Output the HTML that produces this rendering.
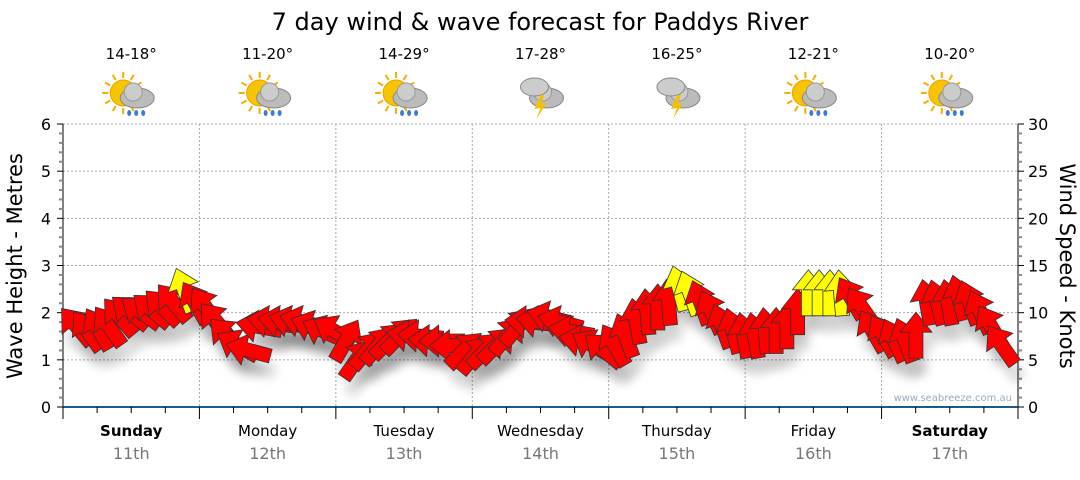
<!DOCTYPE html>
<html><head><meta charset="utf-8"><style>
body{margin:0;background:#fff;width:1080px;height:475px;overflow:hidden;font-family:"Liberation Sans","DejaVu Sans",sans-serif}
</style></head><body>
<svg id="c" width="1080" height="475" xmlns="http://www.w3.org/2000/svg" font-family="DejaVu Sans, Liberation Sans, sans-serif">
<defs><filter id="sh" x="-50%" y="-50%" width="200%" height="200%"><feGaussianBlur stdDeviation="5"/></filter></defs>
<text x="540" y="30" text-anchor="middle" font-size="24" fill="#000">7 day wind &amp; wave forecast for Paddys River</text>
</svg>
<script>
const days=["Sunday","Monday","Tuesday","Wednesday","Thursday","Friday","Saturday"];
const dates=["11th","12th","13th","14th","15th","16th","17th"];
const temps=["14-18°","11-20°","14-29°","17-28°","16-25°","12-21°","10-20°"];
const storm=[false,false,false,true,true,false,false];
const speeds=[8.5,8,8.2,8.5,9.5,10,10,10.2,10.5,11,12.3,11,
 10.5,9,7.5,6.5,6,8.5,9,9,9,9,8.5,8,
 8,7,5,6,6.5,7,7.5,7.5,7.5,7,7,6.5,
 6,5.5,6,6.5,7.5,8.5,9,9,9.5,9,8,7,
 6.5,6,6.5,7.5,9,10,10.5,11,12.5,12,11,10,
 8.5,8,7.5,7.5,8,8,8.5,10,12,12,12,12,
 11.5,10.5,8,7.5,7,7,7.5,11,11,11,11.5,11,10,8.5,6.5];
const dirs=[-40,-35,-30,-35,-40,-50,-55,-50,-45,-40,-20,-30,
 -35,-40,-45,-60,-75,-80,-80,-80,-75,-75,-70,-65,
 -60,30,35,40,40,45,45,-80,-85,-85,-90,-90,
 45,40,45,45,40,40,-85,-80,-75,-75,-80,-80,
 -60,-50,-30,-20,-10,-5,0,-5,-15,-20,-20,-25,
 -20,-15,-10,-10,-5,0,0,0,0,0,0,-5,
 -30,-35,-30,-30,-25,-20,0,-10,-15,-10,-15,-20,-25,-30,-35];
const waveTicks=[0,1,2,3,4,5,6];
const windTicks=[0,5,10,15,20,25,30];
const svg=document.getElementById('c');const NS="http://www.w3.org/2000/svg";
const L=63,R=1018,T=124,B=407;
const xs=i=>L+14+(R-L-30)*i/(speeds.length-1);
const yw=v=>B-(B-T)*v/6, yk=v=>B-(B-T)*v/30;
function el(t,a,p){const e=document.createElementNS(NS,t);for(const k in a)e.setAttribute(k,a[k]);(p||svg).appendChild(e);return e;}
const dw=(R-L)/7;
for(let v=1;v<=6;v++){const g=el('line',{x1:L,x2:R,y1:yw(v),y2:yw(v),stroke:'#aaa','stroke-dasharray':'2,2'});
}
for(let d=1;d<7;d++){const g=el('line',{x1:L+d*dw,x2:L+d*dw,y1:T,y2:B,stroke:'#aaa','stroke-dasharray':'2,2'});
}
el('line',{x1:L,x2:L,y1:T,y2:B,stroke:'#000'});el('line',{x1:R,x2:R,y1:T,y2:B,stroke:'#000'});
el('line',{x1:L,x2:R,y1:B,y2:B,stroke:'#1a5a8a','stroke-width':2});
for(let i=0;i<=30;i++){const y=B-(B-T)*i/30;const big=i%5==0;
el('line',{x1:L-(big?6:4),x2:L,y1:y,y2:y,stroke:big?'#000':'#888','stroke-width':big?1:2});
el('line',{x1:R,x2:R+(big?6:4),y1:y,y2:y,stroke:big?'#000':'#888','stroke-width':big?1:2});}
waveTicks.forEach(v=>{const t=el('text',{x:L-12,y:yw(v)+6,'text-anchor':'end','font-size':16});t.textContent=v;
});
windTicks.forEach(v=>{const t=el('text',{x:R+10,y:yk(v)+6,'font-size':16});t.textContent=v;
});
for(let i=0;i<=28;i++){const x=L+dw*i/4;const big=i%4==0;el('line',{x1:x,x2:x,y1:B,y2:B+(big?12:6),stroke:'#000'});}
let t=el('text',{transform:'translate(22,266) rotate(-90)','text-anchor':'middle','font-size':21});t.textContent='Wave Height - Metres';

t=el('text',{transform:'translate(1060,266) rotate(90)','text-anchor':'middle','font-size':21});t.textContent='Wind Speed - Knots';

t=el('text',{x:1012,y:401,'text-anchor':'end','font-size':10,fill:'#99aabb'});t.textContent='www.seabreeze.com.au';

days.forEach((d,i)=>{const cx=L+dw*(i+0.5);const b=(i==0||i==6)?'bold':'normal';
let a=el('text',{x:cx,y:436,'text-anchor':'middle','font-size':15,'font-weight':b});a.textContent=d;

a=el('text',{x:cx,y:459,'text-anchor':'middle','font-size':16,fill:'#777'});a.textContent=dates[i];

a=el('text',{x:cx,y:59,'text-anchor':'middle','font-size':15});a.textContent=temps[i];

const g=el('g',{transform:`translate(${cx},95)`});
if(!storm[i]){el('circle',{cx:-8,cy:-2,r:13,fill:'#f6c400',stroke:'#f0a000'},g);
for(let k=0;k<12;k++){const an=k*Math.PI/6;el('line',{x1:-8+Math.cos(an)*15,y1:-2+Math.sin(an)*15,x2:-8+Math.cos(an)*21,y2:-2+Math.sin(an)*21,stroke:'#f0b000','stroke-width':2},g);}}
el('ellipse',{cx:6,cy:3,rx:17,ry:10,fill:'#bbb',stroke:'#888'},g);el('circle',{cx:2,cy:-3,r:9,fill:'#ccc',stroke:'#999'},g);
if(storm[i]){el('ellipse',{cx:-6,cy:-8,rx:14,ry:9,fill:'#ccc',stroke:'#888'},g);el('polygon',{points:'0,0 -6,14 0,13 -4,24 6,8 0,9 4,0',fill:'#f5c000'},g);}
else{for(let k=0;k<3;k++)el('ellipse',{cx:-2+k*7,cy:18,rx:2,ry:3,fill:'#3a7bd5'},g);}
});
const shape='M0,-24 L16,-4 L7,-4 L7,22 L-7,22 L-7,-4 L-16,-4 Z';
speeds.forEach((s,i)=>{el('path',{d:shape,transform:`translate(${xs(i)+5},${yk(s)+16}) rotate(${dirs[i]})`,fill:'#000',opacity:0.15,filter:'url(#sh)'});});
speeds.forEach((s,i)=>{const a=el('path',{d:shape,transform:`translate(${xs(i)},${yk(s)}) rotate(${dirs[i]})`,fill:s>=11.9?'#ffff00':'#ff0000',stroke:'#333','stroke-width':0.8});
});
</script>
</body></html>
